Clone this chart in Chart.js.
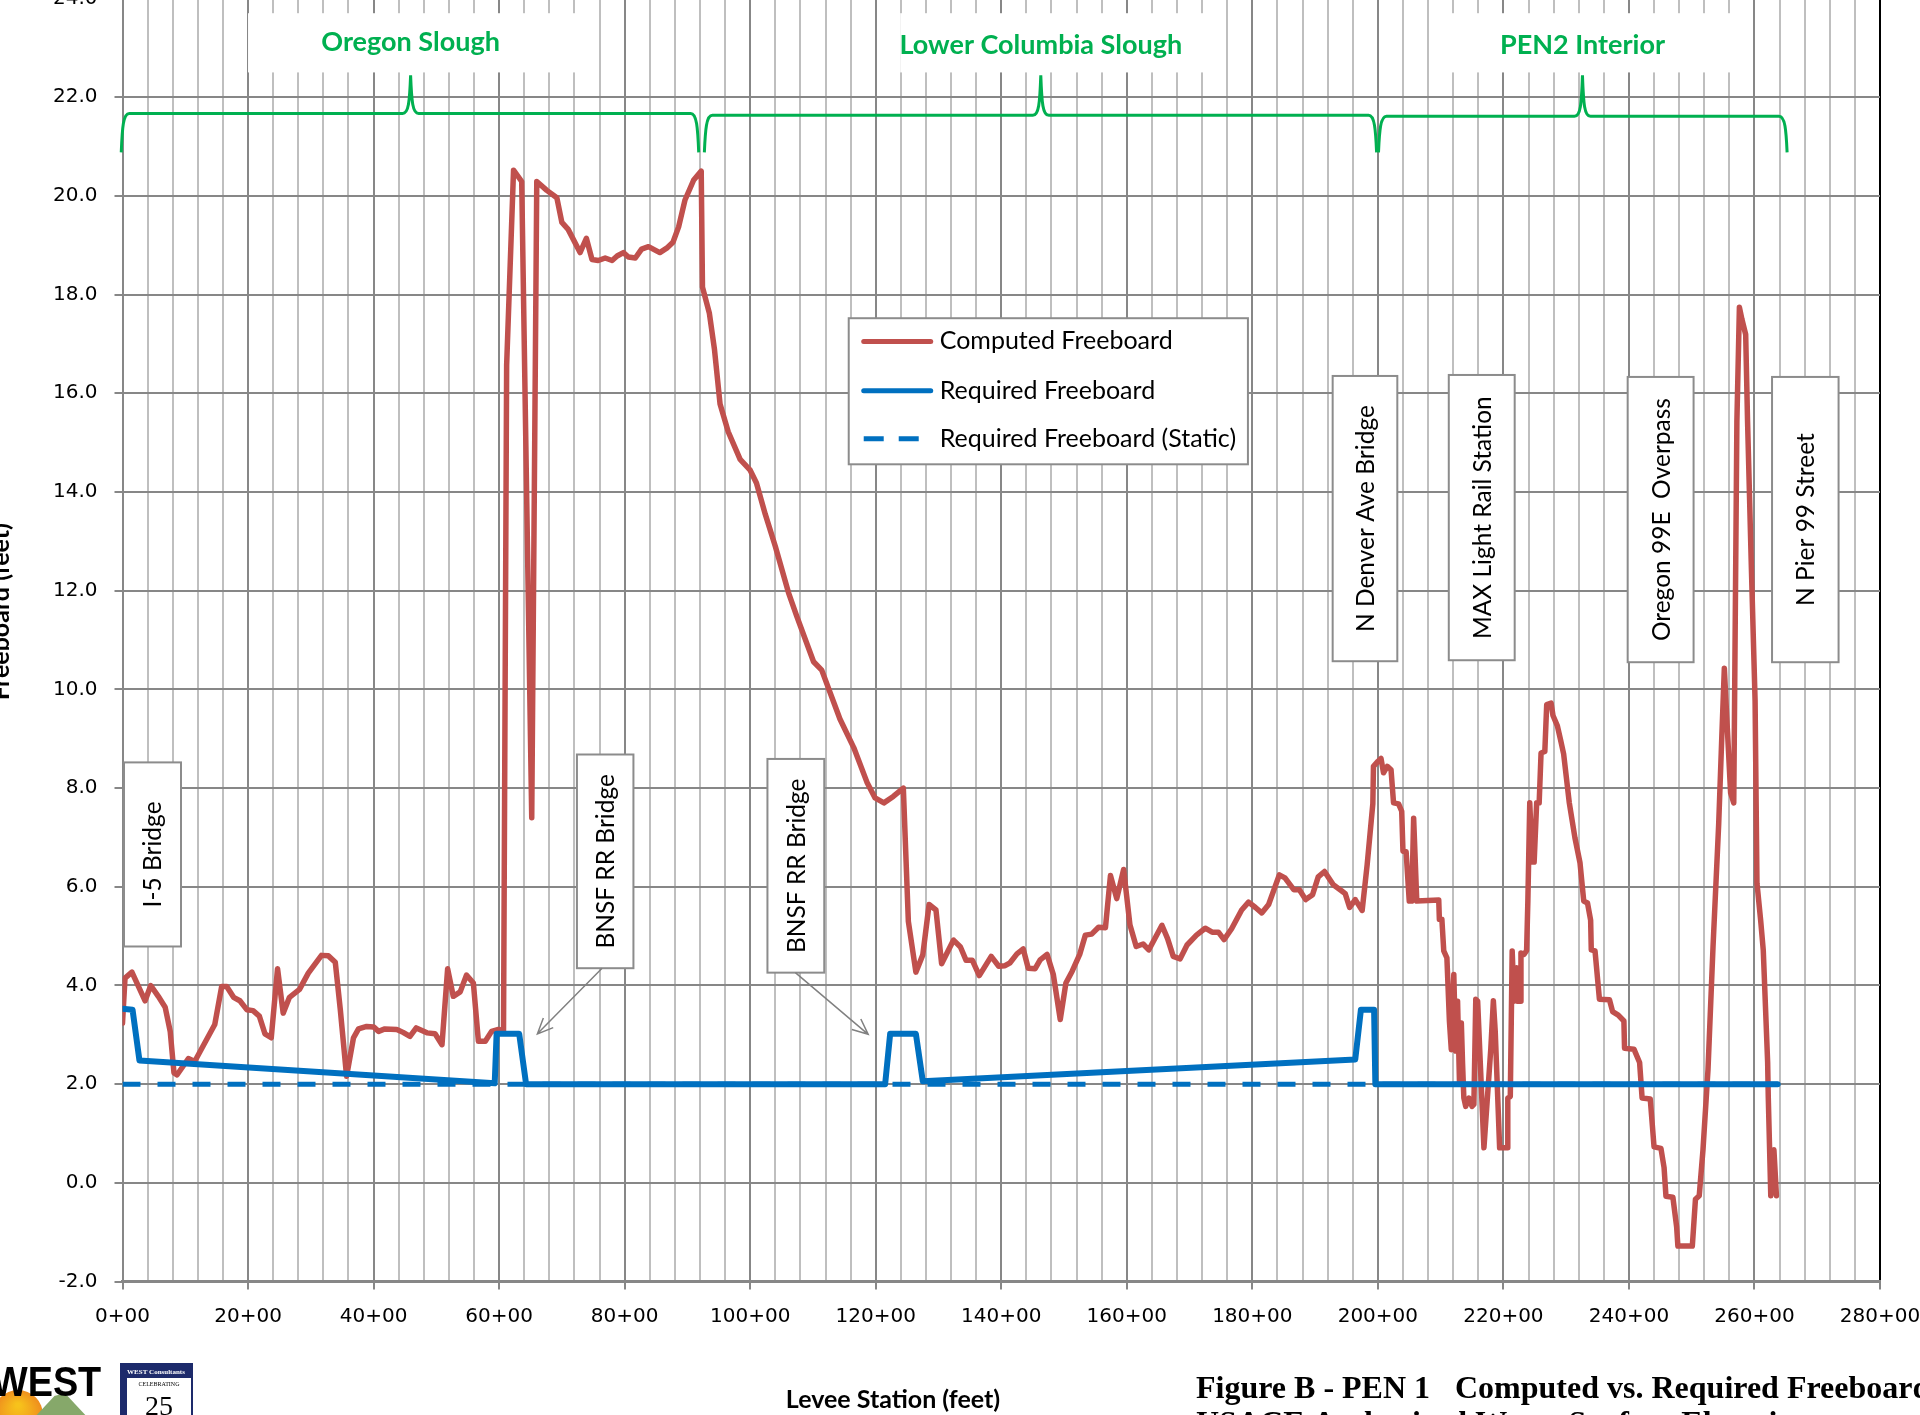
<!DOCTYPE html>
<html>
<head>
<meta charset="utf-8">
<script src="https://cdn.jsdelivr.net/npm/chart.js@4.4.1/dist/chart.umd.min.js"></script>
<style>
  html, body { margin: 0; padding: 0; background: #fff; overflow: hidden; }
  #wrap { position: relative; width: 1920px; height: 1415px; overflow: hidden; background: #fff; }
  #chart { position: absolute; left: 0; top: -22.6px; }
</style>
</head>
<body>
<div id="wrap"><canvas id="chart" width="1920" height="1440"></canvas></div>
<script>
// levee stations are in hundreds of feet (62.3 = 62+30)
const computedStations = [
  0, 0.4, 1.5, 3.6, 4.5, 5.7, 6.8, 7.6, 8.2, 8.7, 10.5, 11.5, 14.7, 15.8, 16.6, 17.7, 18.7, 19.8,
  20.8, 21.8, 22.7, 23.7, 24.7, 25.6, 26.6, 28.2, 29.6, 31.7, 32.8, 33.9, 34.7, 35.7, 36.8, 37.6,
  38.9, 40.0, 40.8, 41.8, 43.7, 44.7, 45.8, 46.8, 48.5, 49.8, 50.9, 51.8, 52.7, 53.8, 54.8, 55.9,
  56.7, 57.8, 58.8, 59.9, 60.7, 61.2, 62.3, 63.6, 65.2, 66.0, 67.6, 69.2, 70.0, 71.0, 72.9, 73.9,
  74.8, 75.8, 76.9, 78.0, 78.8, 79.8, 80.6, 81.7, 82.7, 83.8, 85.6, 86.7, 87.7, 88.6, 89.6, 91.0,
  92.2, 92.4, 93.5, 94.3, 95.2, 96.5, 98.4, 100.0, 101.0, 102.4, 104.0, 106.1, 107.4, 110.1, 111.4,
  114.3, 116.5, 118.6, 119.9, 121.3, 122.8, 124.4, 125.2, 126.4, 127.5, 128.5, 129.6, 130.5, 132.4,
  133.5, 134.4, 135.4, 136.5, 138.4, 139.6, 140.6, 141.4, 142.5, 143.5, 144.3, 145.4, 146.2, 147.3,
  148.3, 149.4, 150.3, 151.3, 152.5, 153.4, 154.4, 155.5, 156.6, 157.4, 158.4, 159.5, 160.5, 161.5,
  162.6, 163.5, 165.6, 166.5, 167.4, 168.5, 169.6, 171.1, 172.5, 173.6, 174.6, 175.5, 176.7, 178.3,
  179.4, 180.5, 181.5, 182.6, 184.3, 185.2, 186.6, 187.5, 188.5, 189.6, 190.5, 191.5, 192.9, 194.2,
  194.8, 195.5, 196.4, 197.5, 198.3, 199.2, 199.3, 200.0, 200.5, 200.9, 201.5, 202.1, 202.5, 203.3,
  203.8, 204.0, 204.5, 205.0, 205.4, 205.7, 206.2, 209.7, 209.8, 210.2, 210.5, 211.0, 211.4, 211.7,
  212.1, 212.4, 212.7, 213.0, 213.3, 213.5, 213.7, 214.0, 214.5, 215.0, 215.3, 215.6, 215.9, 216.9,
  218.0, 218.4, 218.7, 219.4, 220.6, 220.7, 221.1, 221.4, 221.7, 222.1, 222.2, 222.7, 222.8, 223.3,
  223.7, 223.9, 224.2, 224.6, 224.9, 225.3, 225.7, 226.0, 226.6, 226.9, 227.6, 227.9, 228.6, 229.1,
  229.6, 230.5, 231.4, 232.2, 232.8, 233.4, 233.9, 234.0, 234.6, 235.3, 236.9, 237.4, 238.3, 239.2,
  239.3, 240.8, 241.7, 242.1, 243.4, 244.0, 245.1, 245.6, 245.9, 247.0, 247.6, 247.8, 250.1, 250.6,
  251.2, 251.8, 252.6, 253.4, 254.3, 254.8, 255.2, 255.6, 256.2, 256.7, 257.2, 257.6, 258.0, 258.6,
  258.9, 259.5, 260.1, 260.4, 261.0, 261.4, 262.1, 262.2, 262.6, 263.1, 263.5
];
const computedValues = [
  3.24, 4.15, 4.27, 3.69, 4.0, 3.78, 3.56, 3.07, 2.23, 2.19, 2.52, 2.46, 3.21, 3.98, 3.98, 3.76, 3.69, 3.51,
  3.49, 3.38, 3.02, 2.94, 4.34, 3.44, 3.76, 3.92, 4.25, 4.61, 4.6, 4.47, 3.51, 2.16, 2.94, 3.12,
  3.17, 3.16, 3.07, 3.12, 3.11, 3.05, 2.97, 3.14, 3.04, 3.02, 2.8, 4.34, 3.78, 3.87, 4.21, 4.05,
  2.87, 2.87, 3.07, 3.11, 3.07, 16.57, 20.52, 20.29, 7.40, 20.29, 20.11, 19.96, 19.46, 19.32, 18.85, 19.14,
  18.71, 18.69, 18.74, 18.69, 18.78, 18.85, 18.76, 18.74, 18.92, 18.97, 18.85, 18.94, 19.06, 19.37, 19.91, 20.32,
  20.5, 18.15, 17.62, 16.9, 15.78, 15.22, 14.66, 14.44, 14.18, 13.55, 12.9, 11.96, 11.49, 10.56, 10.39,
  9.40, 8.82, 8.12, 7.80, 7.70, 7.83, 8.0, 5.30, 4.27, 4.62, 5.64, 5.53, 4.44, 4.92,
  4.78, 4.51, 4.51, 4.2, 4.59, 4.39, 4.4, 4.46, 4.64, 4.74, 4.35, 4.34, 4.52, 4.63,
  4.22, 3.31, 4.05, 4.29, 4.63, 5.02, 5.04, 5.18, 5.17, 6.23, 5.76, 6.35, 5.23, 4.79,
  4.84, 4.72, 5.22, 4.95, 4.59, 4.54, 4.82, 5.02, 5.16, 5.08, 5.08, 4.93, 5.15, 5.53,
  5.69, 5.58, 5.47, 5.64, 6.24, 6.18, 5.94, 5.94, 5.74, 5.84, 6.2, 6.31, 6.04, 5.92,
  5.86, 5.58, 5.74, 5.52, 6.45, 7.68, 8.44, 8.54, 8.6, 8.31, 8.44, 8.37, 7.7, 7.68,
  7.53, 6.72, 6.71, 5.71, 5.71, 7.39, 5.71, 5.73, 5.34, 5.34, 4.7, 4.56, 3.28, 2.7,
  4.22, 2.67, 3.68, 2.06, 3.24, 2.4, 1.72, 1.55, 1.72, 1.55, 1.59, 3.72, 3.68, 0.71,
  2.73, 3.69, 3.07, 0.71, 0.71, 1.72, 1.75, 4.7, 3.68, 4.36, 3.68, 3.68, 4.66, 4.63,
  4.71, 5.72, 7.7, 6.5, 6.5, 7.7, 7.7, 8.71, 8.74, 9.69, 9.72, 9.47, 9.26, 8.98,
  8.69, 7.70, 6.99, 6.49, 5.71, 5.67, 5.32, 4.72, 4.70, 3.72, 3.71, 3.47, 3.40, 3.28,
  2.73, 2.71, 2.44, 1.72, 1.70, 0.73, 0.70, 0.31, -0.27, -0.29, -0.89, -1.28, -1.28, -0.33,
  -0.26, 0.67, 2.3, 4.79, 7.27, 9.05, 10.43, 9.4, 7.9, 7.7, 15.43, 17.74, 17.5, 17.19,
  15.43, 12.5, 9.76, 6.07, 5.3, 4.72, 2.44, 1.74, -0.26, 0.67, -0.26
];

const requiredStations = [0, 1.6, 2.7, 59.3, 59.6, 63.2, 64.3, 121.5, 122.3, 126.4, 127.5, 196.4, 197.3, 199.4, 199.6, 263.7];
const requiredValues   = [3.53, 3.51, 2.48, 2.02, 3.02, 3.02, 2.0, 2.0, 3.02, 3.02, 2.06, 2.5, 3.51, 3.51, 2.0, 2.0];

const staticStations = [0, 263.7];
const staticValues   = [2.0, 2.0];

const seriesNames = ['Computed Freeboard', 'Required Freeboard', 'Required Freeboard (Static)'];

// reach braces along the top
const reachNames = ['Oregon Slough', 'Lower Columbia Slough', 'PEN2 Interior'];
const reachStart = [-0.2, 92.7, 200.1];
const reachMid   = [45.9, 146.3, 232.6];
const reachEnd   = [91.8, 199.8, 265.2];

// structure call-outs (rotated text boxes)
const structureNames = ['I-5 Bridge', 'BNSF RR Bridge', 'BNSF RR Bridge', 'N Denver Ave Bridge',
                        'MAX Light Rail Station', 'Oregon 99E  Overpass', 'N Pier 99 Street'];
const structureFrom = [0.24, 72.4, 102.75, 192.8, 211.3, 239.8, 262.8];
const structureTo   = [9.32, 81.4, 111.8, 203.1, 221.8, 250.3, 273.4];
const structureLow  = [4.79, 4.35, 4.26, 10.57, 10.59, 10.55, 10.55];
const structureHigh = [8.52, 8.68, 8.59, 16.35, 16.37, 16.33, 16.33];

const RED = '#C0504D', BLUE = '#0070C0', GREEN = '#00B050';
const GRID_DARK = '#878787', GRID_LIGHT = '#bfbfbf';
const LABEL_FONT = 'Lato';

function pts(xs, ys) { return xs.map((s, i) => ({ x: s, y: ys[i] })); }

function brace(ctx, xa, xm, xb, yFlat, yEnd, yTip) {
  const r = 8;
  ctx.beginPath();
  ctx.moveTo(xa, yEnd);
  ctx.bezierCurveTo(xa + 1, yFlat + 14, xa + 2, yFlat, xa + r, yFlat);
  ctx.lineTo(xm - r, yFlat);
  ctx.bezierCurveTo(xm - 2, yFlat, xm - 1, yFlat - 12, xm, yTip);
  ctx.bezierCurveTo(xm + 1, yFlat - 12, xm + 2, yFlat, xm + r, yFlat);
  ctx.lineTo(xb - r, yFlat);
  ctx.bezierCurveTo(xb - 2, yFlat, xb - 1, yFlat + 14, xb, yEnd);
  ctx.stroke();
}

function arrow(ctx, x0, y0, x1, y1) {
  ctx.beginPath();
  ctx.moveTo(x0, y0);
  ctx.lineTo(x1, y1);
  const a = Math.atan2(y1 - y0, x1 - x0);
  const len = 17, w = 0.42;
  ctx.moveTo(x1 - len * Math.cos(a - w), y1 - len * Math.sin(a - w));
  ctx.lineTo(x1, y1);
  ctx.lineTo(x1 - len * Math.cos(a + w), y1 - len * Math.sin(a + w));
  ctx.stroke();
}

const overlay = {
  id: 'overlay',
  afterDatasetsDraw(chart) {
    const { ctx, scales: { x, y } } = chart;
    ctx.save();

    // reach labels with white backing, then the braces
    const labelBoxes = [[20, 72.3], [123.9, 172.2], [208.4, 257.1]];
    reachNames.forEach((name, i) => {
      const bx0 = x.getPixelForValue(labelBoxes[i][0]), bx1 = x.getPixelForValue(labelBoxes[i][1]);
      const by0 = y.getPixelForValue(23.7), by1 = y.getPixelForValue(22.5);
      ctx.fillStyle = '#fff';
      ctx.fillRect(bx0, by0, bx1 - bx0, by1 - by0);
      ctx.fillStyle = GREEN;
      ctx.font = `bold 27px ${LABEL_FONT}`;
      ctx.textAlign = 'center';
      ctx.textBaseline = 'middle';
      ctx.fillText(name, x.getPixelForValue(reachMid[i]), y.getPixelForValue(i === 0 ? 23.11 : 23.05));
    });
    ctx.strokeStyle = GREEN;
    ctx.lineWidth = 3;
    const flats = [21.67, 21.63, 21.61];
    reachNames.forEach((_, i) => {
      brace(ctx, x.getPixelForValue(reachStart[i]), x.getPixelForValue(reachMid[i]), x.getPixelForValue(reachEnd[i]),
            y.getPixelForValue(flats[i]), y.getPixelForValue(20.88), y.getPixelForValue(22.44));
    });

    // structure call-outs
    structureNames.forEach((name, i) => {
      const bx0 = x.getPixelForValue(structureFrom[i]), bx1 = x.getPixelForValue(structureTo[i]);
      const by0 = y.getPixelForValue(structureHigh[i]), by1 = y.getPixelForValue(structureLow[i]);
      ctx.fillStyle = '#fff';
      ctx.fillRect(bx0, by0, bx1 - bx0, by1 - by0);
      ctx.strokeStyle = '#8c8c8c';
      ctx.lineWidth = 2;
      ctx.strokeRect(bx0, by0, bx1 - bx0, by1 - by0);
      ctx.save();
      ctx.translate((bx0 + bx1) / 2 + 1, (by0 + by1) / 2);
      ctx.rotate(-Math.PI / 2);
      ctx.fillStyle = '#000';
      ctx.font = `24.5px ${LABEL_FONT}`;
      ctx.textAlign = 'center';
      ctx.textBaseline = 'middle';
      ctx.fillText(name, 0, 0);
      ctx.restore();
    });

    // pointers from the BNSF boxes
    ctx.strokeStyle = '#808080';
    ctx.lineWidth = 1.5;
    arrow(ctx, x.getPixelForValue(76.4), y.getPixelForValue(4.35), x.getPixelForValue(66.1), y.getPixelForValue(3.02));
    arrow(ctx, x.getPixelForValue(107.2), y.getPixelForValue(4.26), x.getPixelForValue(118.8), y.getPixelForValue(3.01));

    // legend box
    const lx0 = x.getPixelForValue(115.7), lx1 = x.getPixelForValue(179.3);
    const ly0 = y.getPixelForValue(17.52), ly1 = y.getPixelForValue(14.56);
    ctx.fillStyle = '#fff';
    ctx.fillRect(lx0, ly0, lx1 - lx0, ly1 - ly0);
    ctx.strokeStyle = '#8c8c8c';
    ctx.lineWidth = 2;
    ctx.strokeRect(lx0, ly0, lx1 - lx0, ly1 - ly0);
    const rowVals = [17.05, 16.05, 15.08];
    chart.data.datasets.forEach((ds, i) => {
      const ry = y.getPixelForValue(rowVals[i]);
      ctx.strokeStyle = ds.borderColor;
      ctx.lineWidth = 5;
      ctx.lineCap = ds.borderDash ? 'butt' : 'round';
      ctx.setLineDash(ds.borderDash ? [20, 15] : []);
      ctx.beginPath();
      ctx.moveTo(lx0 + 15, ry);
      ctx.lineTo(lx0 + 82, ry);
      ctx.stroke();
      ctx.setLineDash([]);
      ctx.fillStyle = '#000';
      ctx.font = `25px ${LABEL_FONT}`;
      ctx.textAlign = 'left';
      ctx.textBaseline = 'middle';
      ctx.fillText(ds.label, lx0 + 91, ry);
    });
    ctx.lineCap = 'butt';

    // axis titles
    ctx.fillStyle = '#000';
    ctx.font = `bold 25px ${LABEL_FONT}`;
    ctx.save();
    ctx.translate(8.5, 634.6);
    ctx.rotate(-Math.PI / 2);
    ctx.textAlign = 'center';
    ctx.textBaseline = 'alphabetic';
    ctx.fillText('Freeboard (feet)', 0, 0);
    ctx.restore();
    ctx.font = `bold 25px ${LABEL_FONT}`;
    ctx.textAlign = 'center';
    ctx.textBaseline = 'alphabetic';
    ctx.fillText('Levee Station (feet)', 893, 1431);

    // figure caption
    ctx.font = 'bold 32px "Liberation Serif"';
    ctx.textAlign = 'left';
    ctx.fillText('Figure B - PEN 1', 1196, 1421);
    ctx.fillText('Computed vs. Required Freeboard', 1455, 1421);
    ctx.fillText('USACE Authorized Water Surface Elevations', 1196, 1456);

    // company mark, bottom left
    const sun = ctx.createRadialGradient(18, 1428, 2, 18, 1438, 26);
    sun.addColorStop(0, '#f7c21b');
    sun.addColorStop(1, '#ee8a1e');
    ctx.fillStyle = sun;
    ctx.beginPath();
    ctx.arc(18, 1438, 25, 0, Math.PI * 2);
    ctx.fill();
    ctx.fillStyle = '#86a86a';
    ctx.beginPath();
    ctx.moveTo(32, 1443); ctx.lineTo(61, 1412); ctx.lineTo(90, 1443); ctx.closePath();
    ctx.fill();
    ctx.fillStyle = '#fff';
    ctx.beginPath();
    ctx.moveTo(54, 1419); ctx.lineTo(61, 1412); ctx.lineTo(68, 1419); ctx.lineTo(62, 1417); ctx.closePath();
    ctx.fill();
    ctx.save();
    ctx.fillStyle = '#000';
    ctx.font = 'bold 42px "Liberation Sans"';
    ctx.scale(0.9, 1);
    ctx.fillText('WEST', -8 / 0.9, 1419);
    ctx.restore();
    ctx.fillStyle = '#1d2a6b';
    ctx.fillRect(120, 1386, 73, 60);
    ctx.fillStyle = '#fff';
    ctx.fillRect(127, 1401, 64, 45);
    ctx.font = 'bold 7px "Liberation Serif"';
    ctx.textAlign = 'center';
    ctx.fillText('WEST Consultants', 156, 1397);
    ctx.fillStyle = '#000';
    ctx.font = '6px "Liberation Serif"';
    ctx.fillText('CELEBRATING', 159, 1409);
    ctx.font = '28px "Liberation Serif"';
    ctx.fillText('25', 159, 1438);

    ctx.restore();
  }
};

new Chart(document.getElementById('chart'), {
  type: 'line',
  data: {
    datasets: [
      { label: seriesNames[0], data: pts(computedStations, computedValues), borderColor: RED, borderWidth: 5.5,
        pointRadius: 0, tension: 0, borderJoinStyle: 'round', borderCapStyle: 'round', order: 3 },
      { label: seriesNames[1], data: pts(requiredStations, requiredValues), borderColor: BLUE, borderWidth: 6,
        pointRadius: 0, tension: 0, borderJoinStyle: 'round', borderCapStyle: 'round', order: 1 },
      { label: seriesNames[2], data: pts(staticStations, staticValues), borderColor: BLUE, borderWidth: 5,
        borderDash: [18, 17], pointRadius: 0, tension: 0, order: 2 }
    ]
  },
  options: {
    responsive: false,
    animation: false,
    events: [],
    layout: { padding: { left: 0, right: 40, top: 21.4, bottom: 0 } },
    plugins: { legend: { display: false }, tooltip: { enabled: false } },
    scales: {
      x: {
        type: 'linear', min: 0, max: 280,
        afterFit(s) { s.height = 135.4; s.paddingLeft = 0; s.paddingRight = 0; },
        ticks: {
          stepSize: 4, autoSkip: false, maxRotation: 0, minRotation: 0, padding: 15, color: '#000',
          font: { family: 'DejaVu Sans', size: 20 },
          callback: v => (v % 20 === 0 ? v + '+00' : '')
        },
        grid: {
          lineWidth: 2, tickLength: 8,
          color: c => (c.tick.value === 280 ? '#000' : (c.tick.value % 20 === 0 ? GRID_DARK : GRID_LIGHT)),
          tickColor: c => (c.tick.value % 20 === 0 ? GRID_DARK : 'rgba(0,0,0,0)')
        },
        border: { color: GRID_DARK, width: 3 }
      },
      y: {
        min: -2, max: 24,
        afterFit(s) { s.width = 122.5; s.paddingTop = 0; s.paddingBottom = 0; },
        ticks: {
          stepSize: 2, padding: 17, color: '#000',
          font: { family: 'DejaVu Sans', size: 20 },
          callback: v => v.toFixed(1)
        },
        grid: { color: GRID_DARK, lineWidth: 2, tickLength: 8, tickColor: GRID_DARK },
        border: { color: GRID_DARK, width: 2 }
      }
    }
  },
  plugins: [overlay]
});
</script>
</body>
</html>
